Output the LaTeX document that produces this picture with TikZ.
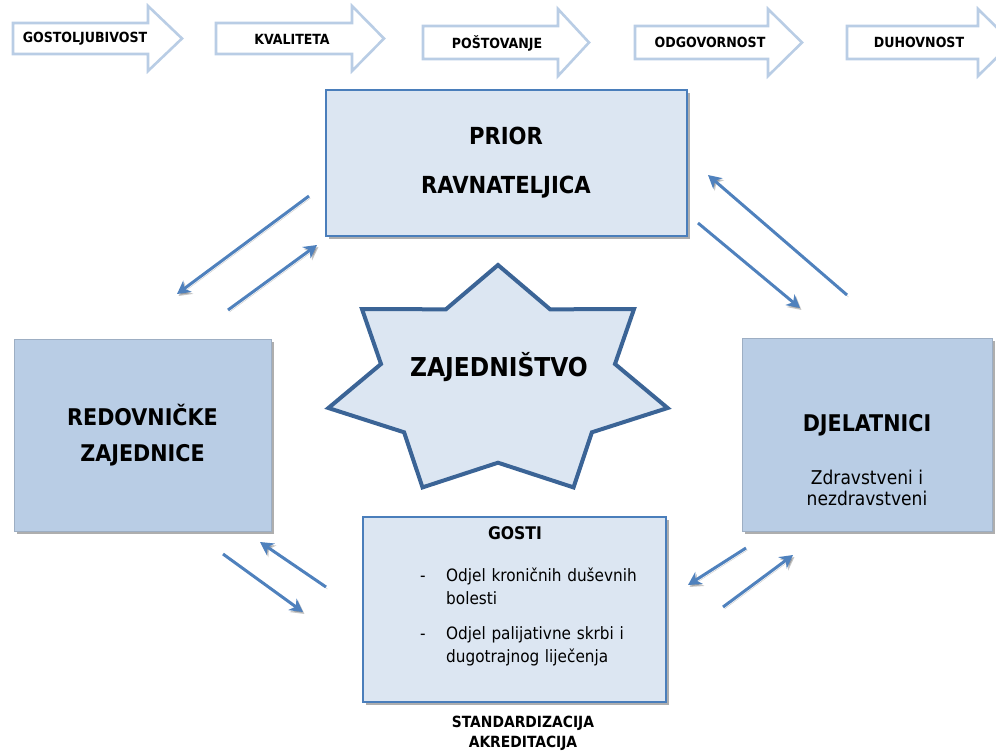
\documentclass[tikz,border=0pt]{standalone}
\usepackage{fontspec}
\setmainfont{DejaVu Sans Condensed}
\usetikzlibrary{arrows.meta,shadows}

\definecolor{bannerline}{HTML}{B9CDE5}
\definecolor{paleblue}{HTML}{DCE6F2}
\definecolor{midblue}{HTML}{B9CDE5}
\definecolor{edgeblue}{HTML}{4A7EBB}
\definecolor{starline}{HTML}{3B6496}
\definecolor{linkblue}{HTML}{4F81BD}

\begin{document}
\begin{tikzpicture}[x=1pt,y=-1pt,
  banner/.style={draw=bannerline,fill=white,line width=2.6pt,line join=miter},
  bannertext/.style={font=\fontsize{14}{16}\selectfont\bfseries,inner sep=0pt},
  boxshadow/.style={drop shadow={shadow xshift=2.5pt,shadow yshift=-3pt,opacity=0.45,fill=black!70}},
  palebox/.style={rectangle,fill=paleblue,draw=edgeblue,line width=1.2pt,inner sep=0pt,outer sep=0pt,boxshadow},
  midbox/.style={rectangle,fill=midblue,draw=midblue!85!black,line width=0.4pt,inner sep=0pt,outer sep=0pt,boxshadow},
  bigtitle/.style={font=\fontsize{23}{36}\selectfont\bfseries,align=center,inner sep=0pt},
  listtext/.style={font=\fontsize{17}{23}\selectfont,align=left,text width=230pt,inner sep=0pt},
  link/.style={draw=linkblue,line width=3pt,-{Stealth[length=13pt,width=14pt,inset=4pt]},
    preaction={draw=black,opacity=0.22,transform canvas={shift={(1.5pt,-2pt)}}}},
]
\useasboundingbox (0,0) rectangle (996,753);

% ---- value banners along the top ----
\draw[banner] (13,23) -- (148,23) -- (148,6) -- (182,38.5) -- (148,71) -- (148,54) -- (13,54) -- cycle;
\node[bannertext] (gost) at (85,39) {GOSTOLJUBIVOST};
\draw[banner] (216,23) -- (352,23) -- (352,6) -- (384,38.5) -- (352,71) -- (352,54) -- (216,54) -- cycle;
\node[bannertext] (kval) at (292,39) {KVALITETA};
\draw[banner] (423,26) -- (558,26) -- (558,9) -- (589,42.5) -- (558,76) -- (558,59) -- (423,59) -- cycle;
\node[bannertext] (post) at (497,43) {POŠTOVANJE};
\draw[banner] (635,26) -- (768,26) -- (768,9) -- (802,42.5) -- (768,76) -- (768,59) -- (635,59) -- cycle;
\node[bannertext] (odg) at (710,42) {ODGOVORNOST};
\draw[banner] (847,26) -- (978,26) -- (978,9) -- (1012,42.5) -- (978,76) -- (978,59) -- (847,59) -- cycle;
\node[bannertext] (duh) at (919,42) {DUHOVNOST};

% ---- central seven-point star (stretched, centre 498/382) ----
\draw[fill=paleblue,draw=starline,line width=4pt,line join=miter]
  (498,265) -- (550.1,309.3) -- (634.0,309.1) -- (615.0,364.0) -- (667.6,408.0) -- (591.9,432.3)
  -- (573.5,487.4) -- (498,462.7) -- (422.5,487.4) -- (404.1,432.3) -- (328.4,408.0) -- (381.0,364.0)
  -- (362.0,309.1) -- (445.9,309.3) -- cycle;
\node[font=\fontsize{26}{30}\selectfont\bfseries,inner sep=0pt] (zaj) at (499,367) {ZAJEDNIŠTVO};

% ---- main boxes ----
\node[palebox,minimum width=361pt,minimum height=146pt] (prior) at (506.5,163) {};
\node[bigtitle,font=\fontsize{23.5}{49}\selectfont\bfseries] (priortxt) at (506,163) {PRIOR\\RAVNATELJICA};

\node[midbox,minimum width=257pt,minimum height=192pt] (redov) at (142.5,435) {};
\node[bigtitle] (redovtxt) at (142.5,435) {REDOVNIČKE\\ZAJEDNICE};

\node[midbox,minimum width=250pt,minimum height=193pt] (djel) at (867,434.5) {};
\node[bigtitle] (djeltxt) at (867,425) {DJELATNICI};
\node[font=\fontsize{19}{21}\selectfont,align=center,inner sep=0pt] (djelsub) at (867,487.5) {Zdravstveni i\\nezdravstveni};

\node[palebox,line width=2.4pt,minimum width=303pt,minimum height=185pt] (gosti) at (514.5,609.5) {};
\node[font=\fontsize{17.4}{20}\selectfont\bfseries,inner sep=0pt] (gostitxt) at (515,533) {GOSTI};
\node[font=\fontsize{17}{23}\selectfont,inner sep=0pt,anchor=base] (dasha) at (423,581) {-};
\node[listtext,anchor=base west] (itema) at (446,581) {Odjel kroničnih duševnih\\bolesti};
\node[font=\fontsize{17}{23}\selectfont,inner sep=0pt,anchor=base] (dashb) at (423,639) {-};
\node[listtext,anchor=base west] (itemb) at (446,639) {Odjel palijativne skrbi i\\dugotrajnog liječenja};

\node[font=\fontsize{15.4}{20}\selectfont\bfseries,align=center,inner sep=0pt] (stand) at (523,733) {STANDARDIZACIJA\\AKREDITACIJA};

% ---- connecting arrows ----
\coordinate (pl1) at (309,196); \coordinate (pl2) at (177,294);
\coordinate (lp1) at (228,310); \coordinate (lp2) at (317,245);
\coordinate (dp1) at (847,295); \coordinate (dp2) at (708,175);
\coordinate (pd1) at (698,223); \coordinate (pd2) at (800,308);
\coordinate (gl1) at (326,587); \coordinate (gl2) at (260,542);
\coordinate (lg1) at (223,554); \coordinate (lg2) at (303,612);
\coordinate (dg1) at (746,548); \coordinate (dg2) at (688,585);
\coordinate (gd1) at (723,607); \coordinate (gd2) at (793,555);
\draw[link] (pl1) -- (pl2);
\draw[link] (lp1) -- (lp2);
\draw[link] (dp1) -- (dp2);
\draw[link] (pd1) -- (pd2);
\draw[link] (gl1) -- (gl2);
\draw[link] (lg1) -- (lg2);
\draw[link] (dg1) -- (dg2);
\draw[link] (gd1) -- (gd2);
\end{tikzpicture}
\end{document}
